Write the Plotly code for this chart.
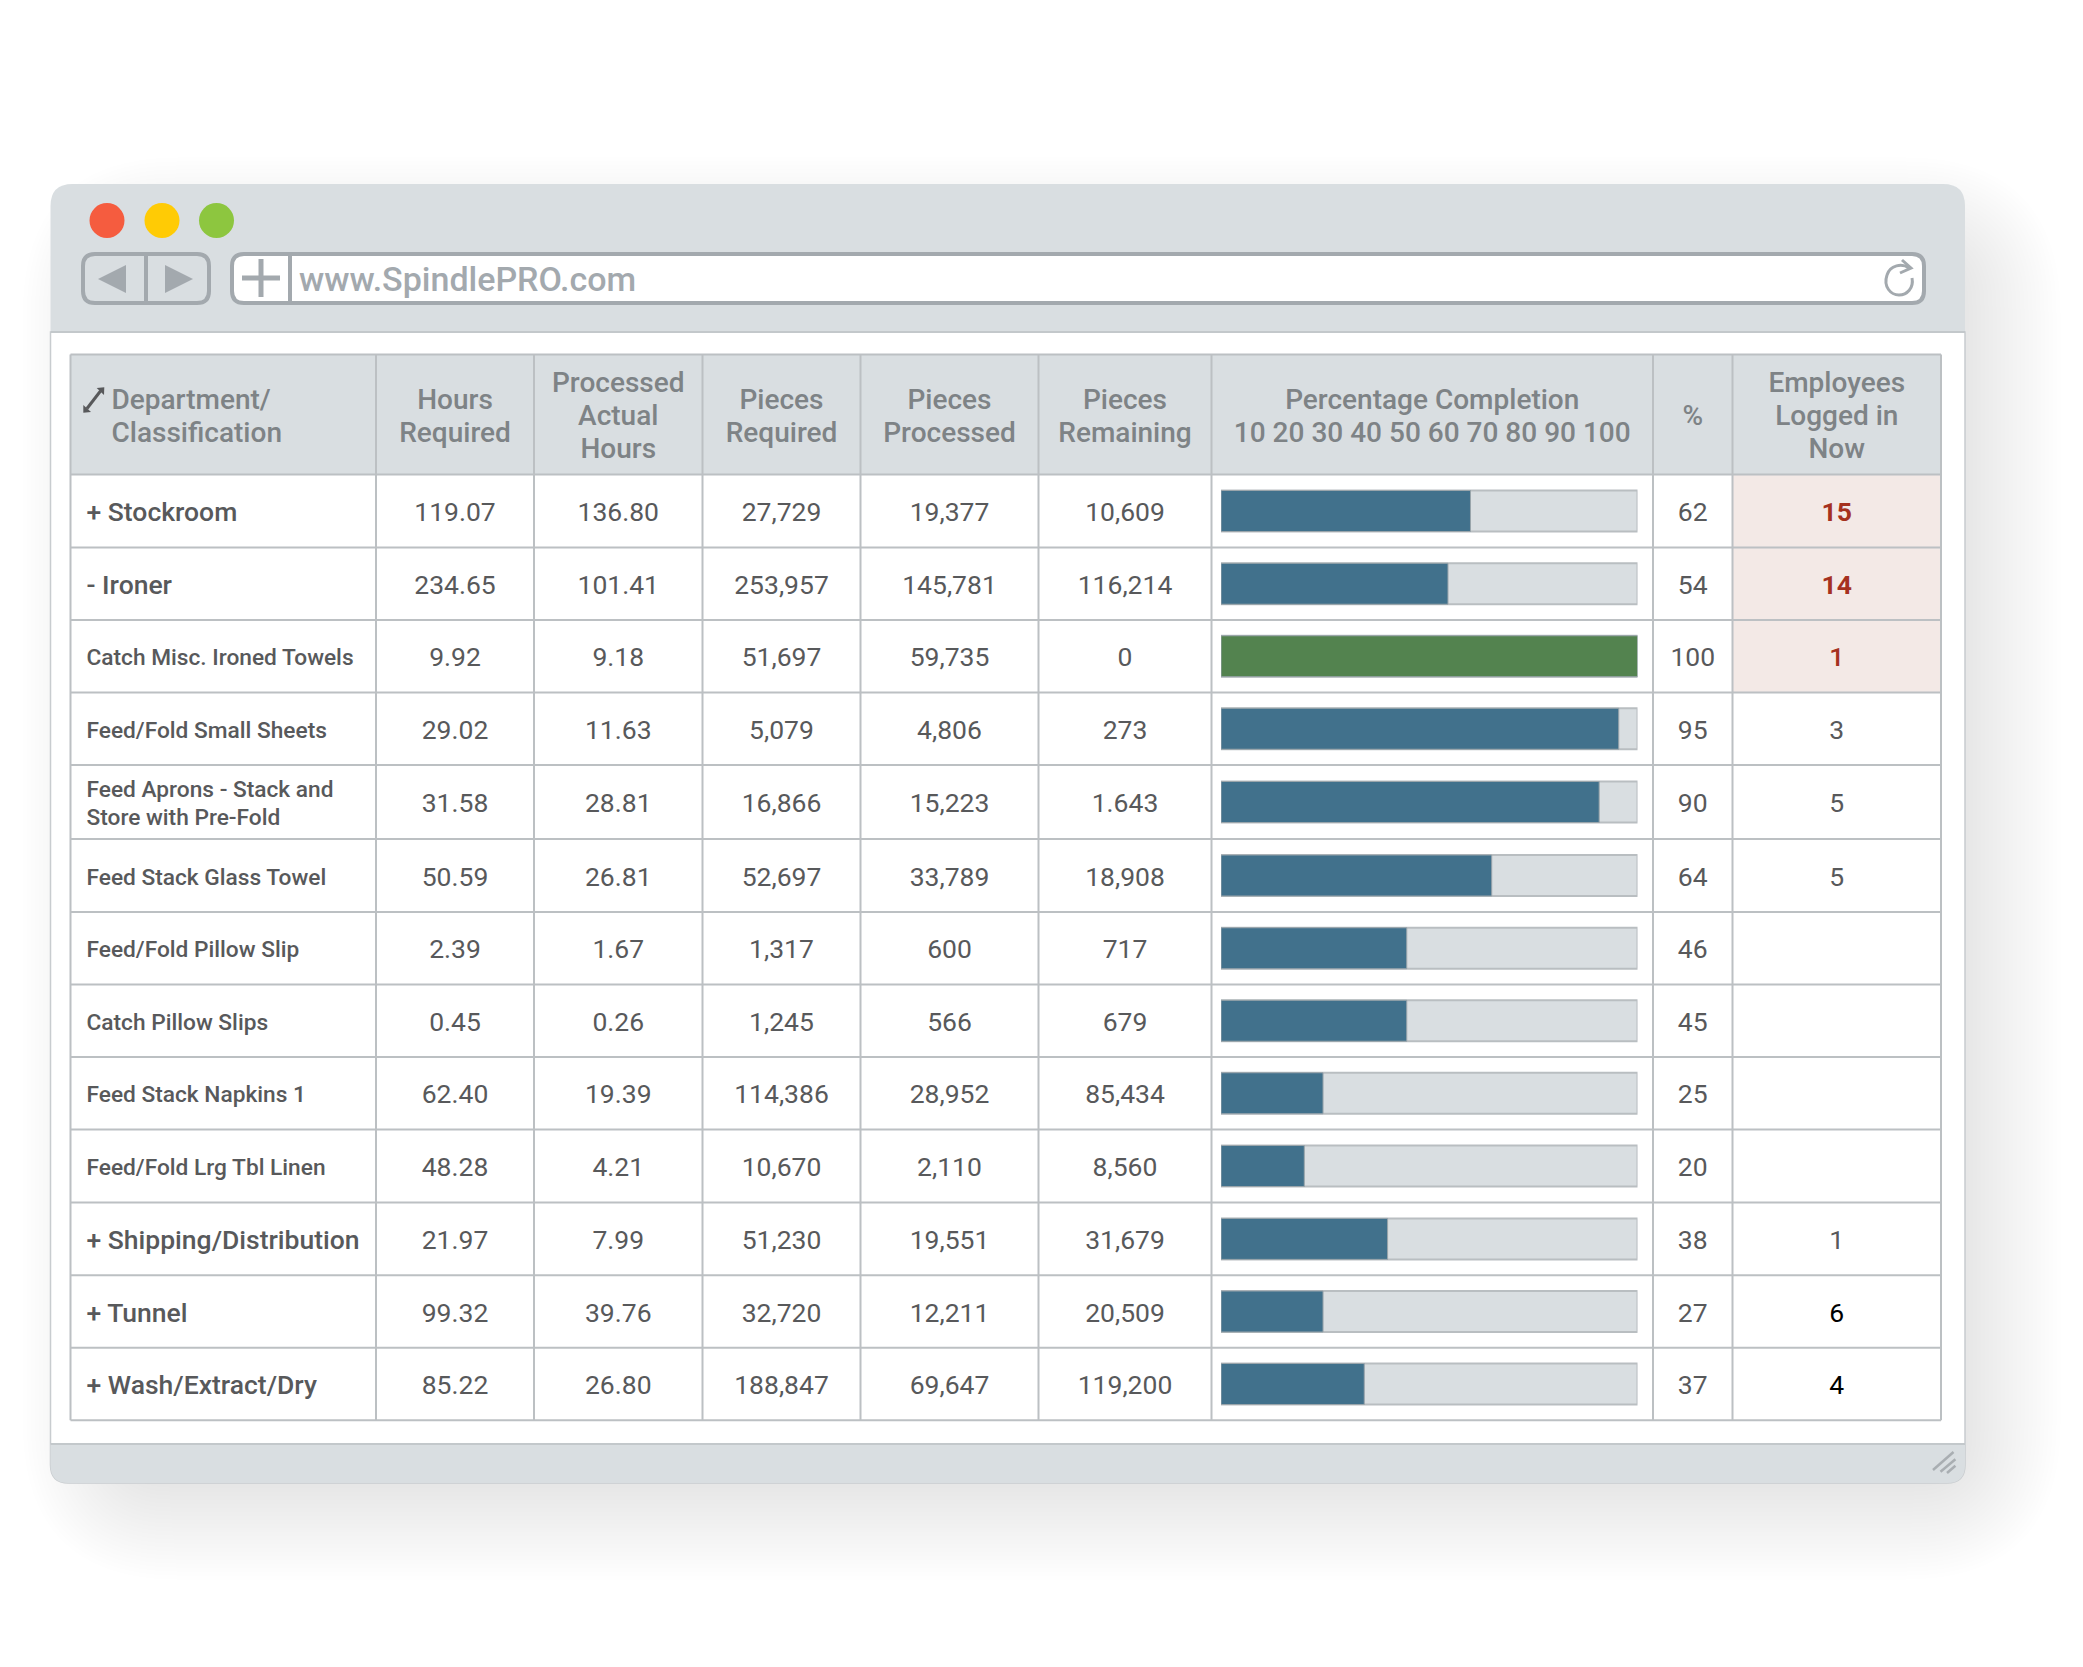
"""plot.py - SpindlePRO department progress table in a browser frame
"""
import plotly.graph_objects as go

# ---- table content ----
headers = [
    "Department/<br>Classification", "Hours<br>Required", "Processed<br>Actual<br>Hours",
    "Pieces<br>Required", "Pieces<br>Processed", "Pieces<br>Remaining",
    "Percentage Completion<br>10 20 30 40 50 60 70 80 90 100", "%", "Employees<br>Logged in<br>Now",
]
departments = [
    "+ Stockroom", "- Ironer", "Catch Misc. Ironed Towels", "Feed/Fold Small Sheets",
    "Feed Aprons - Stack and<br>Store with Pre-Fold", "Feed Stack Glass Towel", "Feed/Fold Pillow Slip",
    "Catch Pillow Slips", "Feed Stack Napkins 1", "Feed/Fold Lrg Tbl Linen",
    "+ Shipping/Distribution", "+ Tunnel", "+ Wash/Extract/Dry",
]
is_group = [True, True, False, False, False, False, False, False, False, False, True, True, True]
hours_required = ["119.07", "234.65", "9.92", "29.02", "31.58", "50.59", "2.39", "0.45", "62.40", "48.28", "21.97", "99.32", "85.22"]
actual_hours = ["136.80", "101.41", "9.18", "11.63", "28.81", "26.81", "1.67", "0.26", "19.39", "4.21", "7.99", "39.76", "26.80"]
pieces_required = ["27,729", "253,957", "51,697", "5,079", "16,866", "52,697", "1,317", "1,245", "114,386", "10,670", "51,230", "32,720", "188,847"]
pieces_processed = ["19,377", "145,781", "59,735", "4,806", "15,223", "33,789", "600", "566", "28,952", "2,110", "19,551", "12,211", "69,647"]
pieces_remaining = ["10,609", "116,214", "0", "273", "1.643", "18,908", "717", "679", "85,434", "8,560", "31,679", "20,509", "119,200"]
percent = [62, 54, 100, 95, 90, 64, 46, 45, 25, 20, 38, 27, 37]
# length of each bar as it is drawn, which is not always the printed percent
bar_length = [59.9, 54.5, 100, 95.5, 90.8, 65, 44.6, 44.6, 24.5, 20, 40, 24.5, 34.4]
employees = ["15", "14", "1", "3", "5", "5", "", "", "", "", "1", "6", "4"]
url = "www.SpindlePRO.com"

# ---- layout of the picture, in page pixels ----
# the page keeps its 8px body margin, so the figure starts at 8 and stops 8 short
WIDTH, HEIGHT, PAGE_MARGIN = 2083, 1667, 8
col_edges = [70.5, 376, 534, 702.5, 860.5, 1038.5, 1211.5, 1653, 1732.5, 1941]
row_edges = [354.6, 474.5, 547.5, 620, 692.5, 765, 839, 912, 984.5, 1057, 1129.5, 1202.5, 1275.3, 1347.7, 1420.3]
BAR_LEFT, BAR_RIGHT, BAR_HEIGHT = 1221, 1637.5, 41
FIG_W, FIG_H = WIDTH - 2 * PAGE_MARGIN, HEIGHT - 2 * PAGE_MARGIN
TEXT_NUDGE = 3.5  # plotly sits text a little above the middle of the row

FRAME = "#d9dee1"
GRID = "#bcc0c3"
ICON = "#a3a9ae"
HEAD_TEXT = "#7e8386"
CELL_TEXT = "#58595b"
ALERT_TEXT = "#a5311f"
ALERT_FILL = "#f3e9e6"
BLUE = "#41718c"
GREEN = "#53834f"

col_mid = [(a + b) / 2 for a, b in zip(col_edges, col_edges[1:])]
row_mid = [(a + b) / 2 for a, b in zip(row_edges[1:], row_edges[2:])]
text_mid = [y + TEXT_NUDGE for y in row_mid]
head_mid = (row_edges[0] + row_edges[1]) / 2 + TEXT_NUDGE


def rounded(x0, y0, x1, y1, tl=0.0, tr=0.0, br=0.0, bl=0.0):
    return (
        f"M {x0 + tl} {y0} L {x1 - tr} {y0} Q {x1} {y0} {x1} {y0 + tr} "
        f"L {x1} {y1 - br} Q {x1} {y1} {x1 - br} {y1} "
        f"L {x0 + bl} {y1} Q {x0} {y1} {x0} {y1 - bl} "
        f"L {x0} {y0 + tl} Q {x0} {y0} {x0 + tl} {y0} Z"
    )


shapes = []


def add_path(path, fill="rgba(0,0,0,0)", line=None, width=0, opacity=1.0):
    shapes.append(dict(type="path", path=path, xref="x", yref="y", fillcolor=fill, opacity=opacity,
                       line=dict(color=line or "rgba(0,0,0,0)", width=width), layer="below"))


def add_line(x0, y0, x1, y1, color=GRID, width=2):
    shapes.append(dict(type="line", x0=x0, y0=y0, x1=x1, y1=y1, xref="x", yref="y",
                       line=dict(color=color, width=width), layer="below"))


# soft drop shadow, built up from faint growing rectangles
WIN = (50.5, 184, 1965, 1483)
for step in range(62, -63, -4):
    add_path(rounded(WIN[0] + 34 - step, WIN[1] + 35 - step, WIN[2] + 34 + step, WIN[3] + 35 + step,
                     *[20 + (step + 62) * 1.1] * 4), fill="#000000", opacity=0.0037)

# window
add_path(rounded(WIN[0], 332, WIN[2], WIN[3], br=18, bl=18), fill="#ffffff", line="#c8cccf", width=1.5)
add_path(rounded(WIN[0], WIN[1], WIN[2], 332, tl=22, tr=22), fill=FRAME)
add_line(WIN[0], 332, WIN[2], 332, color="#c3c8cb", width=2)
add_path(rounded(WIN[0], 1444, WIN[2], WIN[3], br=18, bl=18), fill=FRAME)
add_line(WIN[0], 1444, WIN[2], 1444, color="#c3c8cb", width=2)

# traffic lights
for cx, color in zip([107, 162, 216.5], ["#f55c3f", "#ffcb05", "#8dc63f"]):
    shapes.append(dict(type="circle", x0=cx - 17.5, x1=cx + 17.5, y0=203, y1=238, xref="x", yref="y",
                       fillcolor=color, line=dict(width=0), layer="below"))

# back / forward buttons
add_path(rounded(83, 254, 209, 303, 12, 12, 12, 12), fill=FRAME, line=ICON, width=4)
add_line(146, 254, 146, 303, color=ICON, width=4)
add_path("M 126 265 L 98 279 L 126 293 Z", fill=ICON)
add_path("M 165 265 L 193 279 L 165 293 Z", fill=ICON)

# address bar
add_path(rounded(232, 254, 1924, 303, 12, 12, 12, 12), fill="#ffffff", line=ICON, width=4)
add_line(290, 254, 290, 303, color=ICON, width=4)
add_line(242, 278, 280, 278, color=ICON, width=5)
add_line(261, 259, 261, 297, color=ICON, width=5)

# reload icon
add_path("M 1909 268 C 1902 263 1890 265 1887 275 C 1883 287 1891 295 1899 295 "
         "C 1907 295 1914 288 1912 278", line=ICON, width=3)
add_path("M 1902 260 L 1911 268 L 1900 273", line=ICON, width=3)

# resize grip
add_line(1933, 1470, 1953.5, 1452, color="#a9aeb2", width=2.5)
add_line(1940.5, 1471.7, 1955.4, 1459.3, color="#a9aeb2", width=2.5)
add_line(1947, 1473, 1955.4, 1465.7, color="#a9aeb2", width=2.5)

# table background
add_path(rounded(col_edges[0], row_edges[0], col_edges[-1], row_edges[1]), fill=FRAME)
for i in range(3):
    add_path(rounded(col_edges[8], row_edges[i + 1], col_edges[9], row_edges[i + 2]), fill=ALERT_FILL)
for x in col_edges:
    add_line(x, row_edges[0], x, row_edges[-1])
for y in row_edges:
    add_line(col_edges[0], y, col_edges[-1], y)

# expand arrows in the first header cell
add_line(87, 408.5, 100.5, 391, color=CELL_TEXT, width=3)
add_path("M 96.7 388 L 104.3 387.3 L 104 395 Z", fill=CELL_TEXT)
add_path("M 83.3 405 L 83.3 412.7 L 91 412 Z", fill=CELL_TEXT)

fig = go.Figure()

# percentage bars: grey track and filled part, on their own 0-100 axis
fig.add_trace(go.Bar(
    x=[100] * len(row_mid), y=row_mid, orientation="h", width=BAR_HEIGHT, xaxis="x2", yaxis="y",
    marker=dict(color=FRAME, line=dict(color="#b9bec1", width=2)),
))
fig.add_trace(go.Bar(
    x=bar_length, y=row_mid, orientation="h", width=BAR_HEIGHT, xaxis="x2", yaxis="y",
    marker=dict(color=[GREEN if p == 100 else BLUE for p in percent], line=dict(color="#9aa5ab", width=1)),
))


def add_text(xs, ys, texts, size, color, weight=400, position="middle center"):
    fig.add_trace(go.Scatter(
        x=xs, y=ys, text=texts, mode="text", textposition=position, xaxis="x", yaxis="y",
        textfont=dict(family="Roboto", size=size, color=color, weight=weight), hoverinfo="skip",
    ))


def split_lines(xs, ys, texts, spacing):
    """Break <br> labels into single lines, since the reference spacing is tighter than plotly's."""
    out_x, out_y, out_t = [], [], []
    for x, y, text in zip(xs, ys, texts):
        lines = text.split("<br>")
        for n, line in enumerate(lines):
            out_x.append(x)
            out_y.append(y + (n - (len(lines) - 1) / 2) * spacing)
            out_t.append(line)
    return out_x, out_y, out_t


# header row
add_text(*split_lines([col_edges[0] + 41], [head_mid], headers[:1], 33), 28, HEAD_TEXT, 500, "middle right")
add_text(*split_lines(col_mid[1:], [head_mid] * 8, headers[1:], 33), 28, HEAD_TEXT, 500)

# department names
for group, size in [(True, 26.5), (False, 22.7)]:
    names = [d for d, g in zip(departments, is_group) if g == group]
    ys = [y for y, g in zip(text_mid, is_group) if g == group]
    add_text(*split_lines([col_edges[0] + 16] * len(names), ys, names, 28), size, CELL_TEXT, 500, "middle right")

# numeric columns
for col, values in enumerate([hours_required, actual_hours, pieces_required, pieces_processed, pieces_remaining]):
    add_text([col_mid[col + 1]] * len(values), text_mid, values, 26.5, CELL_TEXT)
add_text([col_mid[7]] * len(percent), text_mid, [str(p) for p in percent], 26.5, CELL_TEXT)

# employees logged in: red for the highlighted rows, black for the last two
emp_colors = [ALERT_TEXT] * 3 + [CELL_TEXT] * 8 + ["#000000"] * 2
emp_weights = [700] * 2 + [500] + [400] * 10
add_text([col_mid[8]] * len(employees), text_mid, employees, 26.5, emp_colors, emp_weights)

# address text
add_text([299], [282.5], [url], 34, ICON, 500, "middle right")

fig.update_layout(
    width=FIG_W,
    height=FIG_H,
    margin=dict(l=0, r=0, t=0, b=0),
    paper_bgcolor="#ffffff",
    plot_bgcolor="rgba(0,0,0,0)",
    showlegend=False,
    barmode="overlay",
    shapes=shapes,
    xaxis=dict(range=[PAGE_MARGIN, WIDTH - PAGE_MARGIN], visible=False, domain=[0, 1]),
    yaxis=dict(range=[HEIGHT - PAGE_MARGIN, PAGE_MARGIN], visible=False, domain=[0, 1]),
    xaxis2=dict(
        range=[0, 100], visible=False, anchor="y",
        domain=[(BAR_LEFT - PAGE_MARGIN) / FIG_W, (BAR_RIGHT - PAGE_MARGIN) / FIG_W],
    ),
)

fig.write_html("out.html")
